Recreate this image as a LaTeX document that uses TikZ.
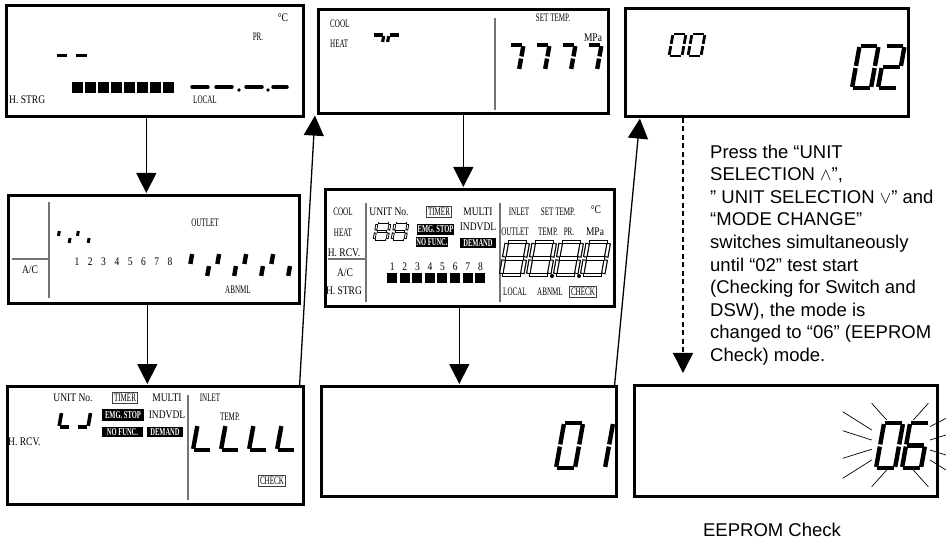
\documentclass[tikz,border=0pt]{standalone}
\usepackage{fontspec}
\setmainfont{Liberation Sans}
\newfontfamily\lcdfont[FakeStretch=0.82]{Liberation Serif}
\newfontfamily\lcdnarrow[FakeStretch=0.62]{Liberation Serif}
\usetikzlibrary{arrows.meta}

\tikzset{
  panel/.style={draw, line width=2.6pt, anchor=north west, inner sep=0pt},
  lcd/.style={font=\lcdfont\fontsize{11.6}{12}\selectfont, inner sep=0pt},
  lcdn/.style={font=\lcdnarrow\fontsize{11.4}{12}\selectfont, inner sep=0pt},
  lcdbox/.style={lcdn, draw=black!75, line width=0.8pt, inner xsep=1.5pt, inner ysep=1.5pt},
  lcdblk/.style={font=\lcdnarrow\bfseries\fontsize{10.5}{11}\selectfont, fill=black, text=white, inner sep=0pt},
  divider/.style={draw=black!55, line width=1.3pt},
  segment/.style={line width=4.4pt, line cap=butt, shorten <=1.1pt, shorten >=1.1pt},
  flow/.style={-{Triangle[length=20pt,width=20pt]}, line width=1.3pt, shorten >=1pt},
  ray/.style={line width=0.7pt},
  note/.style={font=\fontsize{18.5}{22.6}\selectfont, align=left, inner sep=0pt},
}

% one slanted seven-segment digit: [opts]{x}{y bottom}{width}{height}{segments}
\newcommand{\lcddigit}[6][]{%
  \begin{scope}[shift={(#2,#3)}, y=1pt, xslant=0.18]
    \coordinate (a1) at (0,#5);    \coordinate (a2) at (#4,#5);
    \coordinate (b1) at (#4,#5);   \coordinate (b2) at (#4,#5/2);
    \coordinate (c1) at (#4,#5/2); \coordinate (c2) at (#4,0);
    \coordinate (d1) at (0,0);     \coordinate (d2) at (#4,0);
    \coordinate (e1) at (0,0);     \coordinate (e2) at (0,#5/2);
    \coordinate (f1) at (0,#5/2);  \coordinate (f2) at (0,#5);
    \coordinate (g1) at (0,#5/2);  \coordinate (g2) at (#4,#5/2);
    \foreach \sg in {#6} {\draw[segment, #1] (\sg1) -- (\sg2);}
  \end{scope}}
% outlined digit: {x}{y}{w}{h}{segments}{outer width}{inner width}
\newcommand{\lcdhollow}[7]{%
  \lcddigit[line width=#6pt]{#1}{#2}{#3}{#4}{#5}%
  \lcddigit[line width=#7pt, white, shorten <=2.2pt, shorten >=2.2pt]{#1}{#2}{#3}{#4}{#5}}

\begin{document}
\begin{tikzpicture}[x=1pt, y=-1pt]
\useasboundingbox (0,0) rectangle (946,540);
%% ── Panel frames ─────────────────────────────────────────────────────────
\node[panel, minimum width=297pt, minimum height=111pt] (pA) at (5,4) {};
\node[panel, minimum width=290pt, minimum height=104pt] (pB) at (317,8) {};
\node[panel, minimum width=283pt, minimum height=108pt] (pC) at (624,7) {};
\node[panel, minimum width=291pt, minimum height=108pt] (pD) at (7,194) {};
\node[panel, minimum width=289pt, minimum height=117pt] (pE) at (324,188) {};
\node[panel, minimum width=296pt, minimum height=118pt] (pF) at (6,385) {};
\node[panel, minimum width=295pt, minimum height=110pt] (pG) at (320,385) {};
\node[panel, minimum width=303pt, minimum height=111pt] (pH) at (633,384) {};
%% ── Panel A ──────────────────────────────────────────────────────────────
\node[lcd] (aCel) at (283,18) {°C};
\node[lcdn] (aPr) at (258,37) {PR.};
\node[lcd, anchor=west] (aStrg) at (9,100) {H. STRG};
\node[lcdn, anchor=west] (aLocal) at (193,100) {LOCAL};
\draw[line width=3pt] (57,56) -- (67,56) (76,56) -- (87,56);
\foreach \i in {0,...,7} {\fill (72+13*\i,82) rectangle ++(11,11);}
\draw[line width=3.5pt, line cap=round] (192,87) -- (208,87) (216,87) -- (232,87)
  (246,87) -- (262,87) (273,87) -- (287,87);
\fill (239,90) circle[radius=1.8pt] (268,90) circle[radius=1.8pt];
%% ── Panel B ──────────────────────────────────────────────────────────────
\draw[divider] (495,18) -- (495,110);
\node[lcdn, anchor=west] (bCool) at (330,24) {COOL};
\node[lcdn, anchor=west] (bHeat) at (330,44) {HEAT};
\node[lcdn] (bSet) at (553,18) {SET TEMP.};
\node[lcd] (bMpa) at (593,38) {MPa};
\lcddigit[line width=3.2pt]{370}{51}{11}{16}{a,b}
\lcddigit[line width=3.2pt]{386}{51}{11}{16}{a,f}
\foreach \k in {0,...,3} {\lcddigit{505+26*\k}{70}{14}{25}{a,b,c}}
%% ── Panel C ──────────────────────────────────────────────────────────────
\lcddigit[line width=2.8pt]{669}{56}{13}{22}{a,b,c,d,e,f}
\lcddigit[line width=2.8pt]{688}{56}{13}{22}{a,b,c,d,e,f}
\lcddigit{852}{88}{19}{42}{a,b,c,d,e,f}
\lcddigit{878}{88}{19}{42}{a,b,g,e,d}
%% ── Panel D ──────────────────────────────────────────────────────────────
\draw[divider] (49,202) -- (49,298) (12,259) -- (49,259);
\node[lcd] (dAc) at (30,270) {A/C};
\node[lcdn] (dOut) at (205,223) {OUTLET};
\foreach \k in {1,...,8} {\node[lcd] (dBit\k) at (63.7+13.3*\k,262) {\k};}
\node[lcdn] (dAbn) at (238,290) {ABNML};
\lcddigit[line width=3pt]{57}{244}{12}{14}{f,c}
\lcddigit[line width=3pt]{76}{244}{12}{14}{f,c}
\foreach \k in {0,...,3} {\lcddigit[line width=4.4pt]{188+27*\k}{277}{19}{24}{f,c}}
%% ── Panel E ──────────────────────────────────────────────────────────────
\draw[divider] (366,203) -- (366,302) (328,259) -- (366,259) (500,203) -- (500,302);
\node[lcdn] (eCool) at (343,212) {COOL};
\node[lcdn] (eHeat) at (343,233) {HEAT};
\node[lcd] (eRcv) at (344,253) {H. RCV.};
\node[lcd] (eAc) at (345,273) {A/C};
\node[lcd] (eStrg) at (344,291) {H. STRG};
\node[lcd] (eUnit) at (389,212) {UNIT No.};
\node[lcdbox] (eTimer) at (439,212) {TIMER};
\node[lcd] (eMulti) at (478,212) {MULTI};
\node[lcdblk, minimum width=37pt, minimum height=11pt] (eEmg) at (435.5,229.5) {EMG. STOP};
\node[lcd] (eIndv) at (478,227) {INDVDL};
\node[lcdblk, minimum width=31pt, minimum height=10pt] (eNof) at (432,242) {NO FUNC.};
\node[lcdblk, minimum width=36pt, minimum height=10pt] (eDem) at (478,243) {DEMAND};
\node[lcdn] (eInlet) at (519,212) {INLET};
\node[lcdn] (eSet) at (558,212) {SET TEMP.};
\node[lcd] (eCel) at (596,210) {°C};
\node[lcdn] (eOut) at (515,232) {OUTLET};
\node[lcdn] (eTemp) at (548,232) {TEMP.};
\node[lcdn] (ePr) at (569,232) {PR.};
\node[lcd] (eMpa) at (595,232) {MPa};
\node[lcdn] (eLocal) at (515,292) {LOCAL};
\node[lcdn] (eAbn) at (550,292) {ABNML};
\node[lcdbox] (eCheck) at (583,292) {CHECK};
\lcdhollow{374}{240}{13}{17}{a,b,c,d,e,f,g}{2.8}{1}
\lcdhollow{392}{240}{13}{17}{a,b,c,d,e,f,g}{2.8}{1}
\foreach \k in {0,...,3} {\lcdhollow{501+27*\k}{275}{21}{33}{a,b,c,d,e,f,g}{4.6}{2.2}}
\fill (552,276) circle[radius=2pt] (579,276) circle[radius=2pt];
\foreach \k in {1,...,8} {
  \node[lcd] (eBit\k) at (379.6+12.6*\k,267) {\k};
  \fill (374.4+12.6*\k,273) rectangle ++(10,10);
}
%% ── Panel F ──────────────────────────────────────────────────────────────
\draw[divider] (188,395) -- (188,500);
\node[lcd] (fUnit) at (73,398) {UNIT No.};
\node[lcdbox] (fTimer) at (125,398) {TIMER};
\node[lcd] (fMulti) at (167,398) {MULTI};
\node[lcdn] (fInlet) at (210,398) {INLET};
\node[lcdblk, minimum width=42pt, minimum height=12pt] (fEmg) at (123,415) {EMG. STOP};
\node[lcd] (fIndv) at (167,415) {INDVDL};
\node[lcdblk, minimum width=41pt, minimum height=10pt] (fNof) at (122.5,432) {NO FUNC.};
\node[lcdblk, minimum width=36pt, minimum height=10pt] (fDem) at (165,432) {DEMAND};
\node[lcdn] (fTemp) at (230,417) {TEMP.};
\node[lcd, anchor=west] (fRcv) at (8,442) {H. RCV.};
\node[lcdbox] (fCheck) at (272,481) {CHECK};
\lcddigit[line width=3.6pt]{59}{427}{11}{30}{e,d}
\lcddigit[line width=3.6pt]{77}{427}{11}{30}{d,c}
\foreach \k in {0,...,3} {\lcddigit[line width=4.4pt]{193+28*\k}{450}{18}{50}{e,d}}
%% ── Panel G ──────────────────────────────────────────────────────────────
\lcddigit{556}{468}{19}{45}{a,b,c,d,e,f}
\lcddigit{586}{468}{19}{45}{b,c}
%% ── Panel H (blinking 06) ────────────────────────────────────────────────
\lcddigit{876}{468}{19}{45}{a,b,c,d,e,f}
\lcddigit{902}{468}{19}{45}{a,f,g,c,d,e}
\foreach \xa/\ya/\xb/\yb in {842.7/411.7/871.7/430, 842.7/430.7/871.7/440,
    842.7/458.3/871.7/449.3, 842.7/478.3/871.7/460, 871.7/403.3/886.7/420,
    871.7/486.7/886.7/470, 913.3/420/928.3/403.3, 913.3/470/928.3/486.7,
    930/426.7/946/418.3, 930/440/946/435, 930/450/946/455, 930/460/946/470}
  {\draw[ray] (\xa,\ya) -- (\xb,\yb);}
%% ── Flow arrows ──────────────────────────────────────────────────────────
\draw[flow] ([xshift=-8.5pt]pA.south) -- ([xshift=-7.5pt]pD.north);
\draw[flow] ([xshift=-6.5pt]pD.south) -- ([xshift=-8pt]pF.north);
\draw[flow] ([xshift=-5pt]pF.north east) -- ([xshift=-2pt]pB.south west);
\draw[flow] (pB.south) -- ([xshift=-6.5pt]pE.north);
\draw[flow] ([xshift=-10.5pt]pE.south) -- ([xshift=-9.5pt]pG.north);
\draw[flow] ([xshift=-3pt]pG.north east) -- ([xshift=16pt]pC.south west);
\draw[flow, dash pattern=on 5pt off 3.5pt, shorten >=11pt]
  ([xshift=59pt]pC.south west) -- ([xshift=50pt]pH.north west);
%% ── Explanation ──────────────────────────────────────────────────────────
\node[note, anchor=north west] (howto) at (710,144.5)
  {Press the “UNIT\\SELECTION $\wedge$”,\\” UNIT SELECTION $\vee$” and\\“MODE CHANGE”\\switches simultaneously\\until “02” test start\\(Checking for Switch and\\DSW), the mode is\\changed to “06” (EEPROM\\Check) mode.};
\node[note] (eeprom) at (772,530) {EEPROM Check};
\end{tikzpicture}
\end{document}
